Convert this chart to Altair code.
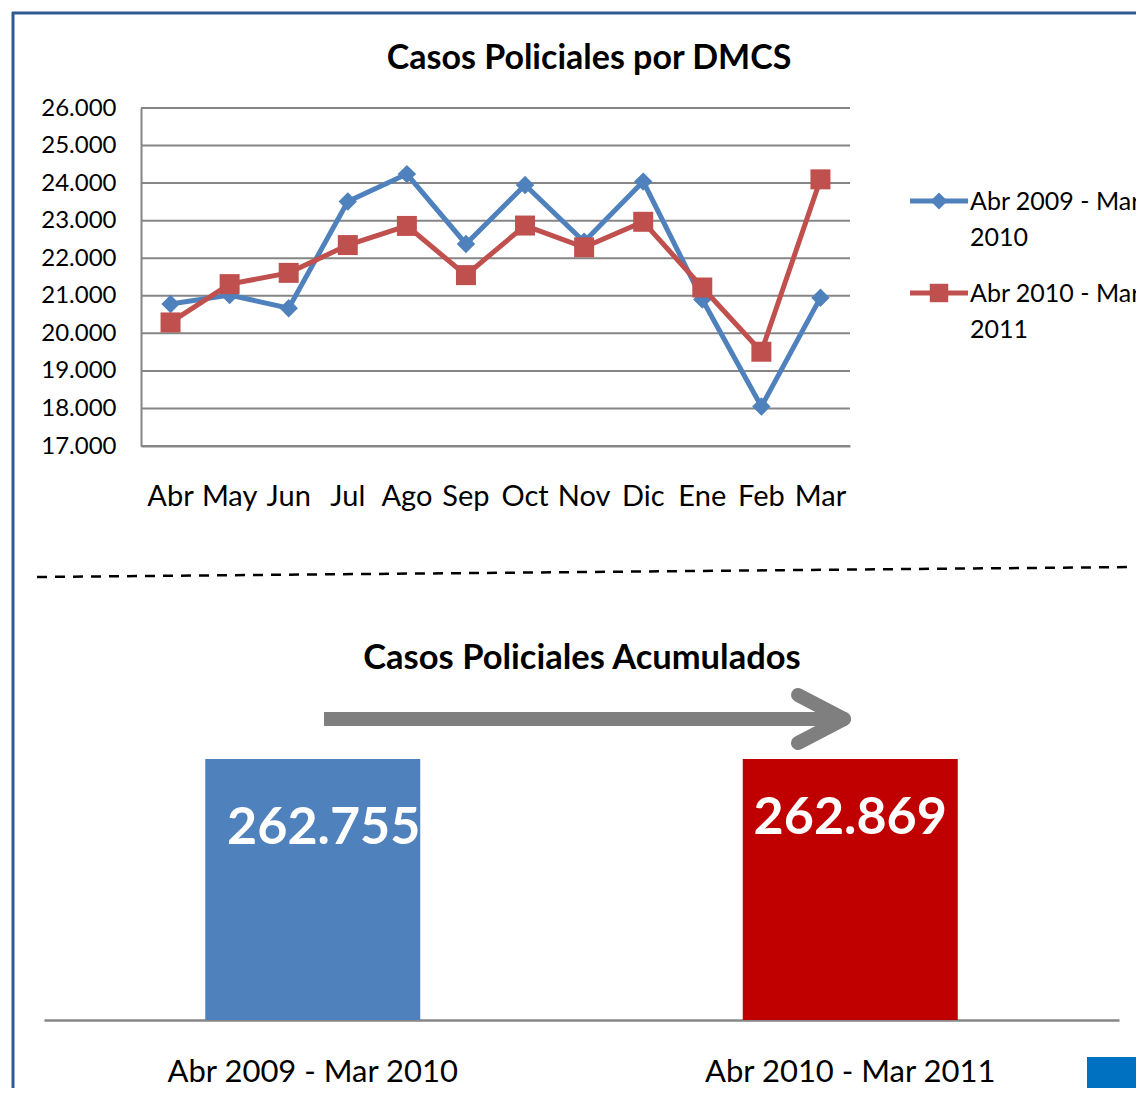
import altair as alt
import pandas as pd

# ---------------- data ----------------
months = ["Abr", "May", "Jun", "Jul", "Ago", "Sep", "Oct", "Nov", "Dic", "Ene", "Feb", "Mar"]
series_names = ["Abr 2009 - Mar 2010", "Abr 2010 - Mar 2011"]
casos_2009_2010 = [20780, 21020, 20670, 23510, 24240, 22380, 23950, 22440, 24040, 20900, 18050, 20950]
casos_2010_2011 = [20290, 21310, 21610, 22350, 22860, 21550, 22870, 22290, 22970, 21220, 19510, 24100]
y_ticks = [17000, 18000, 19000, 20000, 21000, 22000, 23000, 24000, 25000, 26000]
totales = [262755, 262869]
title_top = "Casos Policiales por DMCS"
title_bottom = "Casos Policiales Acumulados"

series_colors = ["#4F81BD", "#C0504D"]
bar_colors = ["#4F81BD", "#C00000"]
series_shapes = ["diamond", "square"]
series_sizes = [340, 400]

FONT = "Lato"
GRID = "#868686"
W, H = 1128, 1080

line_df = pd.DataFrame({
    "mes": months * 2,
    "serie": [series_names[0]] * len(months) + [series_names[1]] * len(months),
    "casos": casos_2009_2010 + casos_2010_2011,
})
grid_df = pd.DataFrame({"casos": y_ticks})
bar_df = pd.DataFrame({"periodo": series_names, "total": totales})
one = pd.DataFrame({"k": [0]})

thousands = "replace(format(datum.value, ',d'), ',', '.')"

# ---------------- line chart ----------------
x_line_scale = alt.Scale(type="band", range=[133, 842], paddingInner=0, paddingOuter=0)
y_line_scale = alt.Scale(domain=[17000, 26000], range=[438, 100], nice=False, zero=False)

y_axis = alt.Axis(orient="left", offset=-133, values=y_ticks, labelExpr=thousands,
                  ticks=False, tickSize=0, grid=False, domain=True, domainColor=GRID,
                  domainWidth=2, labelFont=FONT, labelFontSize=24, labelColor="black",
                  labelPadding=25, title=None)
x_axis = alt.Axis(orient="bottom", offset=-(H - 438), ticks=False, tickSize=0, grid=False,
                  domain=True, domainColor=GRID, domainWidth=2, labelFont=FONT,
                  labelFontSize=29, labelColor="black", labelPadding=36, labelAngle=0,
                  title=None)

grid = alt.Chart(grid_df).mark_rule(color=GRID, strokeWidth=2).encode(
    y=alt.Y("casos:Q", scale=y_line_scale, axis=y_axis),
    x=alt.value(133), x2=alt.value(842),
)

series_layers = []
for i, name in enumerate(series_names):
    base = alt.Chart(line_df).transform_filter(alt.datum.serie == name)
    enc = dict(
        x=alt.X("mes:N", sort=months, bandPosition=0.5, scale=x_line_scale, axis=x_axis),
        y=alt.Y("casos:Q", scale=y_line_scale, axis=y_axis),
    )
    series_layers.append(base.mark_line(color=series_colors[i], strokeWidth=5).encode(**enc))
    series_layers.append(base.mark_point(filled=True, opacity=1, color=series_colors[i],
                                         shape=series_shapes[i], size=series_sizes[i]).encode(**enc))

line_chart = alt.layer(grid, *series_layers)

# manual legend
legend_layers = []
legend_y = [193, 285]
for i, name in enumerate(series_names):
    ldf = pd.DataFrame({"serie": [name]})
    legend_layers.append(alt.Chart(ldf).mark_rule(color=series_colors[i], strokeWidth=5).encode(
        x=alt.value(902), x2=alt.value(960), y=alt.value(legend_y[i])))
    legend_layers.append(alt.Chart(ldf).mark_point(filled=True, opacity=1, color=series_colors[i],
                                                   shape=series_shapes[i],
                                                   size=series_sizes[i] * 0.85).encode(
        x=alt.value(931), y=alt.value(legend_y[i])))
    legend_layers.append(alt.Chart(ldf).transform_calculate(
        lbl="[substring(datum.serie, 0, lastindexof(datum.serie, ' ')), "
            "substring(datum.serie, lastindexof(datum.serie, ' ') + 1)]"
    ).mark_text(font=FONT, fontSize=25, color="black", align="left", baseline="top",
                lineHeight=36).encode(
        text="lbl:N", x=alt.value(962), y=alt.value(legend_y[i] - 11)))

# ---------------- bar chart ----------------
x_bar_scale = alt.Scale(type="band", range=[36, 1111], paddingInner=0.6, paddingOuter=0.3)
y_bar_scale = alt.Scale(zero=True, nice=False, range=[1012, 751])
x_bar_axis = alt.Axis(orient="bottom", offset=-(H - 1012), ticks=False, tickSize=0, grid=False,
                      domain=True, domainColor=GRID, domainWidth=2.5, labelFont=FONT,
                      labelFontSize=31, labelColor="black", labelPadding=37, labelAngle=0,
                      labelLimit=500, title=None)

bars = alt.Chart(bar_df).mark_bar().encode(
    x=alt.X("periodo:N", sort=series_names, scale=x_bar_scale, axis=x_bar_axis),
    y=alt.Y("total:Q", scale=y_bar_scale, axis=None),
    color=alt.Color("periodo:N", scale=alt.Scale(domain=series_names, range=bar_colors), legend=None),
)
label_offsets = [(11, 69), (0, 59)]
bar_labels = []
for i, name in enumerate(series_names):
    bar_labels.append(alt.Chart(bar_df).transform_filter(alt.datum.periodo == name).transform_calculate(
        etiqueta=thousands.replace("datum.value", "datum.total")
    ).mark_text(font=FONT, fontWeight="bold", fontSize=52, color="white", baseline="middle",
                align="center", dx=label_offsets[i][0], dy=label_offsets[i][1]).encode(
        x=alt.X("periodo:N", sort=series_names, bandPosition=0.5, scale=x_bar_scale, axis=x_bar_axis),
        y=alt.Y("total:Q", scale=y_bar_scale, axis=None),
        text="etiqueta:N",
    ))
bar_chart = alt.layer(bars, *bar_labels)

# ---------------- decorations ----------------
frame_color = "#2F5A94"
frame_top = alt.Chart(one).mark_rule(color=frame_color, strokeWidth=3).encode(
    x=alt.value(4), x2=alt.value(W), y=alt.value(5))
frame_left = alt.Chart(one).mark_rule(color=frame_color, strokeWidth=3).encode(
    x=alt.value(5), y=alt.value(4), y2=alt.value(H))
dashed = alt.Chart(one).mark_rule(color="black", strokeWidth=2.5, strokeDash=[10, 8]).encode(
    x=alt.value(29), y=alt.value(569), x2=alt.value(1125), y2=alt.value(559))
arrow_color = "#7F7F7F"
arrow_shaft = alt.Chart(one).mark_rule(color=arrow_color, strokeWidth=14).encode(
    x=alt.value(316), x2=alt.value(830), y=alt.value(711))
arrow_head1 = alt.Chart(one).mark_rule(color=arrow_color, strokeWidth=14, strokeCap="round").encode(
    x=alt.value(790), y=alt.value(687), x2=alt.value(836), y2=alt.value(711))
arrow_head2 = alt.Chart(one).mark_rule(color=arrow_color, strokeWidth=14, strokeCap="round").encode(
    x=alt.value(790), y=alt.value(735), x2=alt.value(836), y2=alt.value(711))
corner = alt.Chart(one).mark_rect(color="#0070C0").encode(
    x=alt.value(1079), x2=alt.value(W), y=alt.value(1049), y2=alt.value(H))

t1 = alt.Chart(pd.DataFrame({"t": [title_top]})).mark_text(
    font=FONT, fontWeight="bold", fontSize=34, color="black", baseline="middle", align="center"
).encode(text="t:N", x=alt.value(581), y=alt.value(51))
t2 = alt.Chart(pd.DataFrame({"t": [title_bottom]})).mark_text(
    font=FONT, fontWeight="bold", fontSize=34.5, color="black", baseline="middle", align="center"
).encode(text="t:N", x=alt.value(574), y=alt.value(651))

chart = alt.layer(
    frame_top, frame_left, dashed, line_chart, bar_chart,
    arrow_shaft, arrow_head1, arrow_head2, corner, t1, t2, *legend_layers
).resolve_scale(x="independent", y="independent", color="independent").properties(
    width=W, height=H, padding=0, autosize=alt.AutoSizeParams(type="none"),
    background="white"
).configure_view(stroke=None)

chart.save("out.html", embed_options={"renderer": "svg", "actions": False})
